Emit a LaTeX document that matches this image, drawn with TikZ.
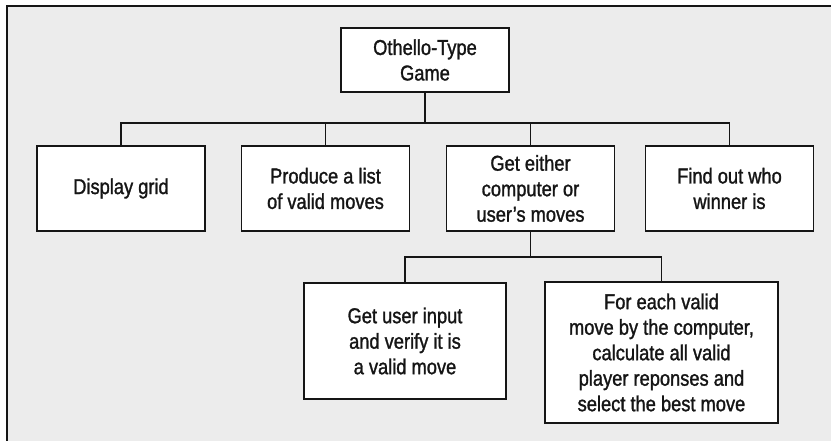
\documentclass[tikz,border=0pt]{standalone}
\usepackage{fontspec}
\setmainfont{Liberation Sans}[FakeStretch=0.85, FakeBold=1.3]
\usepackage{xcolor}
\usetikzlibrary{calc, positioning}

\definecolor{panelgray}{HTML}{ECECEC}
\definecolor{inkblack}{HTML}{151515}

\tikzset{
    task/.style={draw=inkblack, fill=white, line width=1.8pt, align=center,
                 inner sep=0pt, font=\fontsize{21.5}{25.5}\selectfont, text=inkblack},
    link/.style={draw=inkblack, line width=1.7pt}
}

\begin{document}
\begin{tikzpicture}[x=1pt, y=-1pt]

    % =================================================================
    % 1. PANEL (grey background, border on the left and top only)
    % =================================================================
    \useasboundingbox (0,0) rectangle (831,441);
    \fill[panelgray] (7,6) rectangle (831,441);
    \draw[inkblack, line width=2.2pt] (7,441) -- (7,6) -- (831,6);

    % =================================================================
    % 2. THE BOXES OF THE CHART
    % =================================================================
    \node[task, minimum width=168pt, minimum height=64pt] (game) at (425,60) {Othello-Type\\Game};

    \node[task, minimum width=168pt, minimum height=85pt] (grid)   at (121,188.5) {Display grid};
    \node[task, minimum width=168pt, minimum height=85pt] (list)   at (325.5,188.5) {Produce a list\\of valid moves};
    \node[task, minimum width=168pt, minimum height=85pt] (moves)  at (530.5,188.5) {Get either\\computer or\\user’s moves};
    \node[task, minimum width=168pt, minimum height=85pt] (winner) at (729.5,188.5) {Find out who\\winner is};

    \node[task, minimum width=202pt, minimum height=116pt] (user) at (405,341) {Get user input\\and verify it is\\a valid move};
    \node[task, minimum width=233pt, minimum height=141pt] (comp) at (661.5,352.5)
        {For each valid\\move by the computer,\\calculate all valid\\player reponses and\\select the best move};

    % =================================================================
    % 3. CONNECTORS (elbow lines through a junction)
    % =================================================================
    \coordinate (J1) at (425,123);
    \coordinate (J2) at (530.5,257);

    \draw[link] (game.south) -- (J1);
    \foreach \kid in {grid, list, moves, winner}
        \draw[link] (J1) -| (\kid.north);

    \draw[link] (moves.south) -- (J2);
    \foreach \kid in {user, comp}
        \draw[link] (J2) -| (\kid.north);

\end{tikzpicture}
\end{document}
